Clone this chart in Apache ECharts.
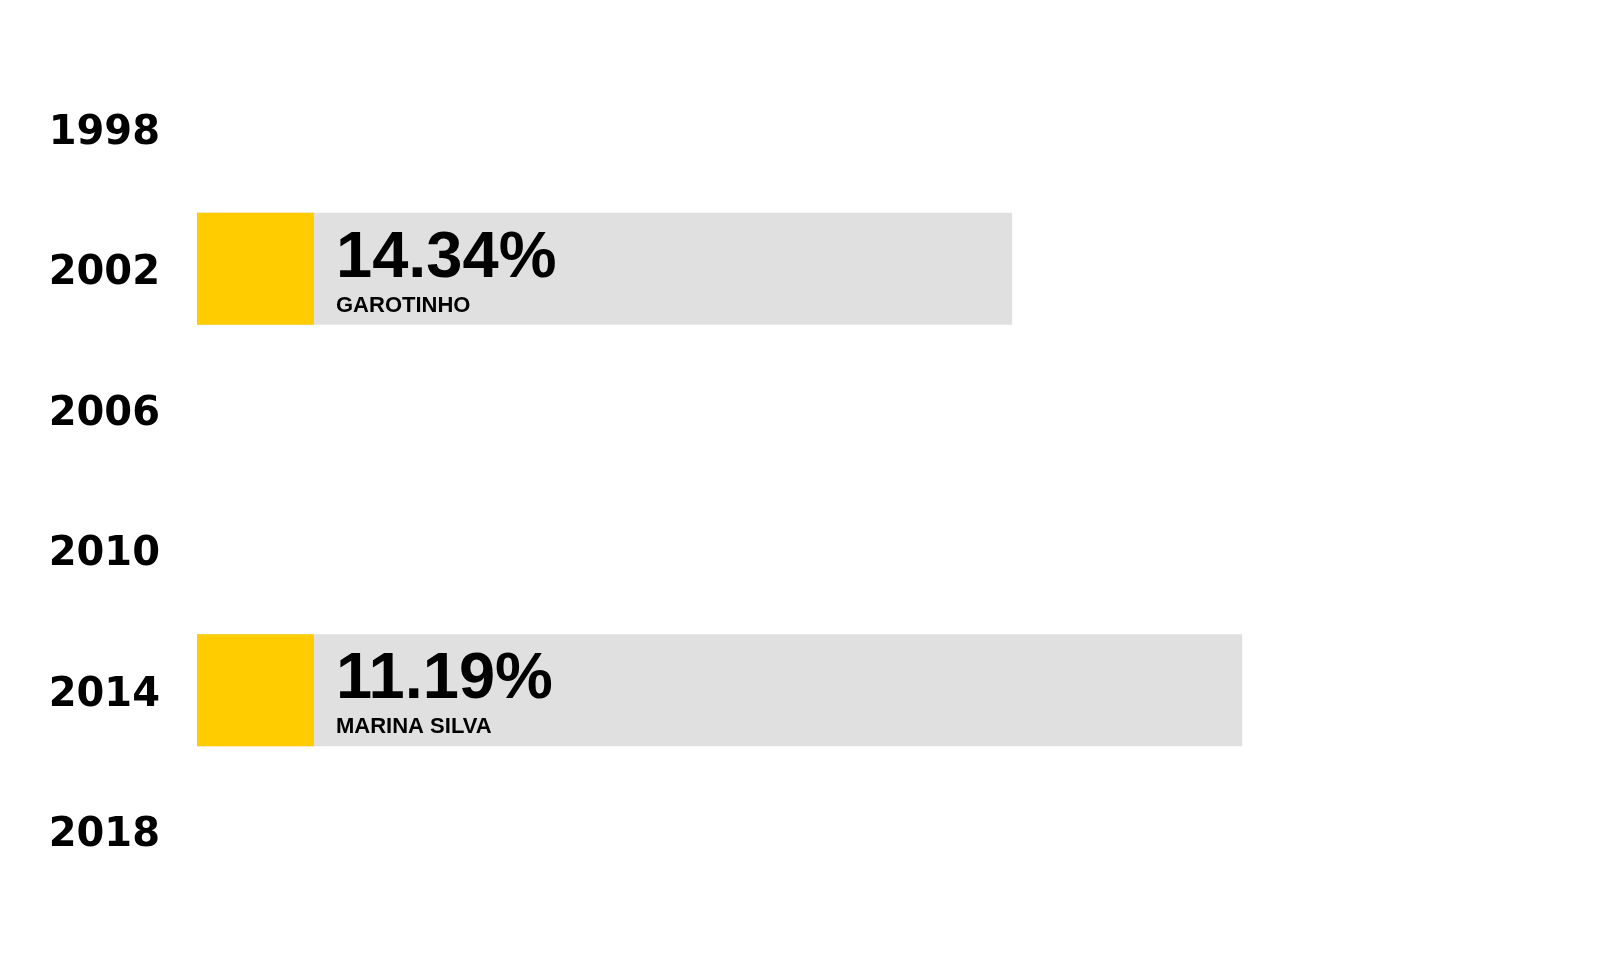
<!DOCTYPE html>
<html>
<head>
<meta charset="utf-8">
<script src="https://cdn.jsdelivr.net/npm/echarts@6/dist/echarts.min.js"></script>
<style>
html,body{margin:0;padding:0;background:#fff;}
#chart{width:1600px;height:960px;}
</style>
</head>
<body>
<div id="chart"></div>
<script>
const years = ['1998', '2002', '2006', '2010', '2014', '2018'];
const barValues = [null, 62.7, null, null, 80.4, null];
const markerValues = [null, 9.0, null, null, 9.0, null];
const percentLabels = ['', '14.34%', '', '', '11.19%', ''];
const candidateNames = ['', 'GAROTINHO', '', '', 'MARINA SILVA', ''];

const FONT = '"Liberation Sans", Arial, sans-serif';
const YEAR_FONT = '"DejaVu Sans", sans-serif';

const chart = echarts.init(document.getElementById('chart'));
chart.setOption({
  backgroundColor: '#ffffff',
  animation: false,
  grid: { left: 197, width: 1300, top: 58, height: 843, outerBoundsMode: 'none' },
  xAxis: {
    type: 'value', min: 0, max: 100,
    show: false
  },
  yAxis: {
    type: 'category',
    data: years,
    inverse: true,
    axisLine: { show: false },
    axisTick: { show: false },
    splitLine: { show: false },
    axisLabel: {
      margin: 37,
      formatter: function (v) { return '{y|' + v + '}'; },
      rich: {
        y: {
          color: '#000',
          fontFamily: YEAR_FONT,
          fontWeight: 'bold',
          fontSize: 40,
          lineHeight: 48,
          padding: [10, 0, 0, 0]
        }
      }
    }
  },
  series: [
    {
      type: 'bar',
      data: barValues,
      barWidth: 112,
      barGap: '-100%',
      itemStyle: { color: '#E0E0E0' },
      silent: true,
      label: {
        show: true,
        position: [139, 16],
        align: 'left',
        verticalAlign: 'top',
        formatter: function (p) {
          return '{a|' + percentLabels[p.dataIndex] + '}\n{b|' + candidateNames[p.dataIndex] + '}';
        },
        rich: {
          a: { fontFamily: FONT, fontWeight: 'bold', fontSize: 65, lineHeight: 60, color: '#000' },
          b: { fontFamily: FONT, fontWeight: 'bold', fontSize: 22, lineHeight: 34, color: '#000' }
        }
      }
    },
    {
      type: 'bar',
      data: markerValues,
      barWidth: 112,
      barGap: '-100%',
      itemStyle: { color: '#FFCC00' },
      silent: true
    }
  ]
});
</script>
</body>
</html>
